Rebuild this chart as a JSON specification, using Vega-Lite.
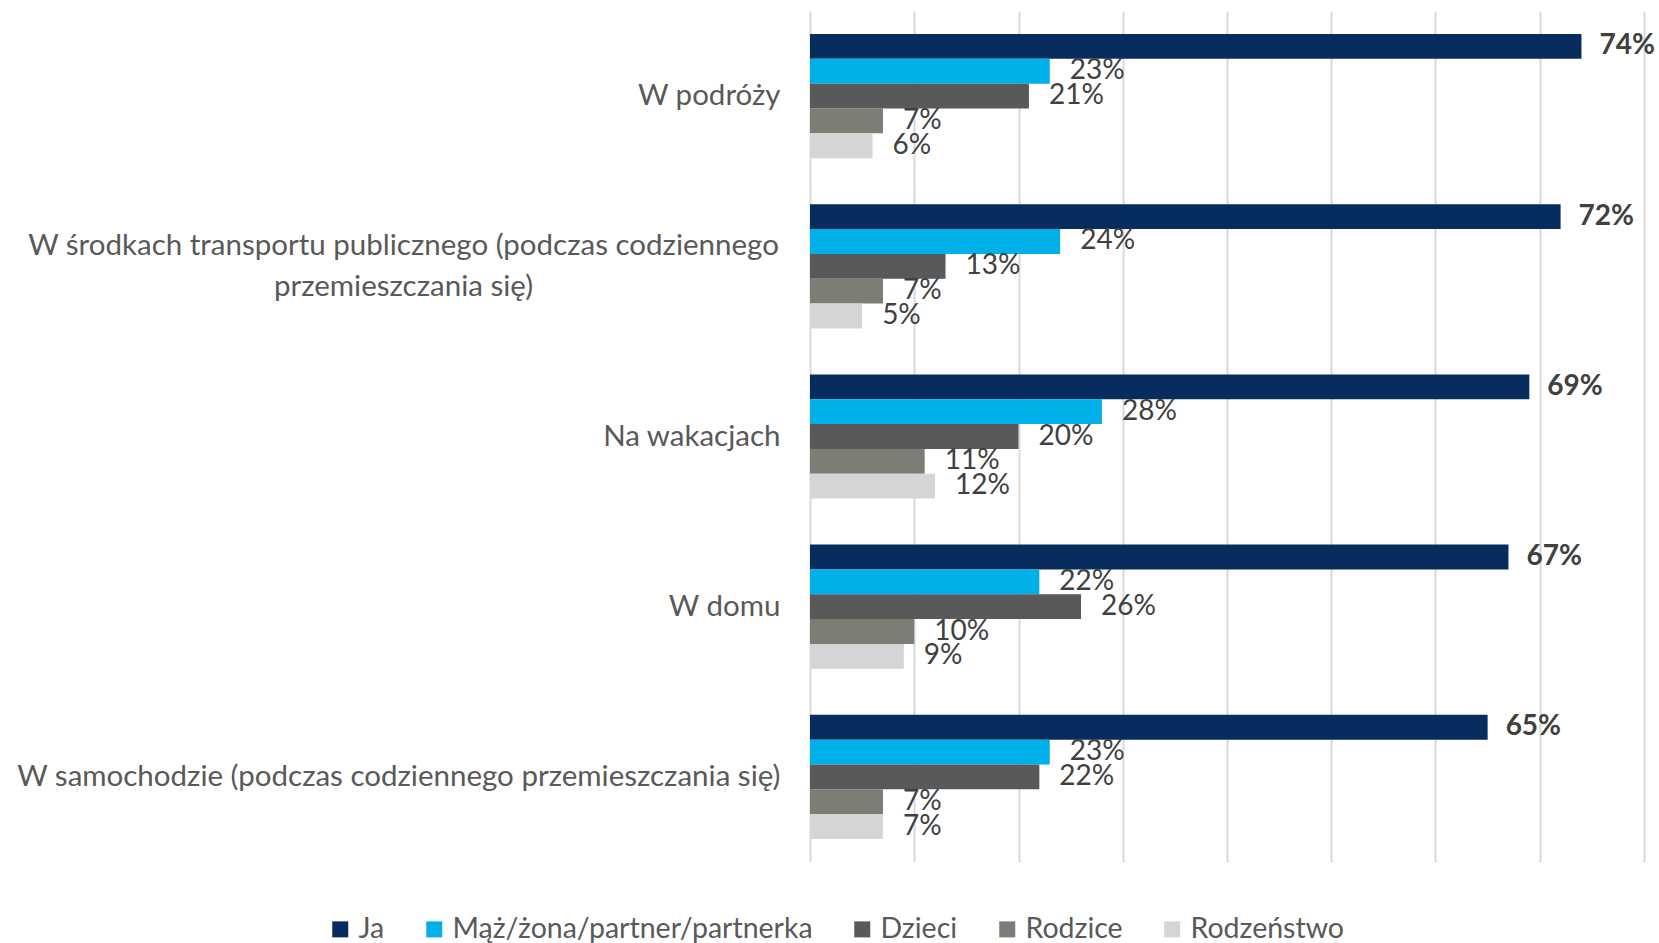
{
  "$schema": "https://vega.github.io/schema/vega-lite/v6.json",
  "width": 834,
  "height": 851,
  "autosize": "none",
  "padding": {"left": 810, "top": 11, "right": 15, "bottom": 81},
  "config": {"view": {"stroke": null}, "font": "Lato"},
  "data": {
    "values": [
      {"category": "W podróży", "series": "Ja", "value": 0.74},
      {"category": "W podróży", "series": "Mąż/żona/partner/partnerka", "value": 0.23},
      {"category": "W podróży", "series": "Dzieci", "value": 0.21},
      {"category": "W podróży", "series": "Rodzice", "value": 0.07},
      {"category": "W podróży", "series": "Rodzeństwo", "value": 0.06},
      {"category": "W środkach transportu publicznego (podczas codziennego przemieszczania się)", "series": "Ja", "value": 0.72},
      {"category": "W środkach transportu publicznego (podczas codziennego przemieszczania się)", "series": "Mąż/żona/partner/partnerka", "value": 0.24},
      {"category": "W środkach transportu publicznego (podczas codziennego przemieszczania się)", "series": "Dzieci", "value": 0.13},
      {"category": "W środkach transportu publicznego (podczas codziennego przemieszczania się)", "series": "Rodzice", "value": 0.07},
      {"category": "W środkach transportu publicznego (podczas codziennego przemieszczania się)", "series": "Rodzeństwo", "value": 0.05},
      {"category": "Na wakacjach", "series": "Ja", "value": 0.69},
      {"category": "Na wakacjach", "series": "Mąż/żona/partner/partnerka", "value": 0.28},
      {"category": "Na wakacjach", "series": "Dzieci", "value": 0.20},
      {"category": "Na wakacjach", "series": "Rodzice", "value": 0.11},
      {"category": "Na wakacjach", "series": "Rodzeństwo", "value": 0.12},
      {"category": "W domu", "series": "Ja", "value": 0.67},
      {"category": "W domu", "series": "Mąż/żona/partner/partnerka", "value": 0.22},
      {"category": "W domu", "series": "Dzieci", "value": 0.26},
      {"category": "W domu", "series": "Rodzice", "value": 0.10},
      {"category": "W domu", "series": "Rodzeństwo", "value": 0.09},
      {"category": "W samochodzie (podczas codziennego przemieszczania się)", "series": "Ja", "value": 0.65},
      {"category": "W samochodzie (podczas codziennego przemieszczania się)", "series": "Mąż/żona/partner/partnerka", "value": 0.23},
      {"category": "W samochodzie (podczas codziennego przemieszczania się)", "series": "Dzieci", "value": 0.22},
      {"category": "W samochodzie (podczas codziennego przemieszczania się)", "series": "Rodzice", "value": 0.07},
      {"category": "W samochodzie (podczas codziennego przemieszczania się)", "series": "Rodzeństwo", "value": 0.07}
    ]
  },
  "encoding": {
    "y": {
      "field": "category",
      "type": "nominal",
      "sort": ["W podróży", "W środkach transportu publicznego (podczas codziennego przemieszczania się)", "Na wakacjach", "W domu", "W samochodzie (podczas codziennego przemieszczania się)"],
      "scale": {"paddingInner": 0.27, "paddingOuter": 0.135},
      "axis": {
        "title": null,
        "ticks": false,
        "domain": false,
        "labelFontSize": 29.5,
        "labelColor": "#595959",
        "labelLimit": 1200,
        "labelLineHeight": 41,
        "labelPadding": {"condition": {"test": "indexof(datum.value, 'środkach') >= 0", "value": 407}, "value": 30},
        "labelOffset": {"condition": {"test": "indexof(datum.value, 'środkach') >= 0", "value": -20}, "value": 0},
        "labelAlign": {"condition": {"test": "indexof(datum.value, 'środkach') >= 0", "value": "center"}, "value": "right"},
        "labelExpr": "indexof(datum.value, 'środkach') >= 0 ? ['W środkach transportu publicznego (podczas codziennego', 'przemieszczania się)'] : datum.value"
      }
    },
    "yOffset": {
      "field": "series",
      "type": "nominal",
      "sort": ["Ja", "Mąż/żona/partner/partnerka", "Dzieci", "Rodzice", "Rodzeństwo"],
      "scale": {"paddingInner": 0, "paddingOuter": 0}
    },
    "x": {
      "field": "value",
      "type": "quantitative",
      "scale": {"domain": [0, 0.8], "nice": false},
      "axis": {
        "title": null,
        "labels": false,
        "ticks": false,
        "domain": false,
        "grid": true,
        "gridColor": "#D9D9D9",
        "gridWidth": 2,
        "values": [0, 0.1, 0.2, 0.3, 0.4, 0.5, 0.6, 0.7, 0.8]
      }
    }
  },
  "layer": [
    {
      "mark": {"type": "bar"},
      "encoding": {
        "color": {
          "field": "series",
          "type": "nominal",
          "sort": ["Ja", "Mąż/żona/partner/partnerka", "Dzieci", "Rodzice", "Rodzeństwo"],
          "scale": {
            "domain": ["Ja", "Mąż/żona/partner/partnerka", "Dzieci", "Rodzice", "Rodzeństwo"],
            "range": ["#072C5E", "#00B0E8", "#595959", "#7D7D75", "#D5D5D5"]
          },
          "legend": {
            "title": null,
            "orient": "none",
            "direction": "horizontal",
            "legendX": -484,
            "legendY": 904,
            "symbolType": "square",
            "symbolSize": 256,
            "symbolStrokeWidth": 0,
            "labelFontSize": 28.5,
            "labelColor": "#595959",
            "labelOffset": 4,
            "labelLimit": 600,
            "columnPadding": 35
          }
        }
      }
    },
    {
      "transform": [{"filter": "datum.series != 'Ja'"}],
      "mark": {"type": "text", "align": "left", "baseline": "middle", "dx": 20, "fontSize": 28, "color": "#404040"},
      "encoding": {"text": {"field": "value", "type": "quantitative", "format": ".0%"}}
    },
    {
      "transform": [{"filter": "datum.series == 'Ja'"}],
      "mark": {"type": "text", "align": "left", "baseline": "middle", "dx": 18, "fontSize": 28, "fontWeight": "bold", "color": "#404040"},
      "encoding": {"text": {"field": "value", "type": "quantitative", "format": ".0%"}}
    }
  ]
}
